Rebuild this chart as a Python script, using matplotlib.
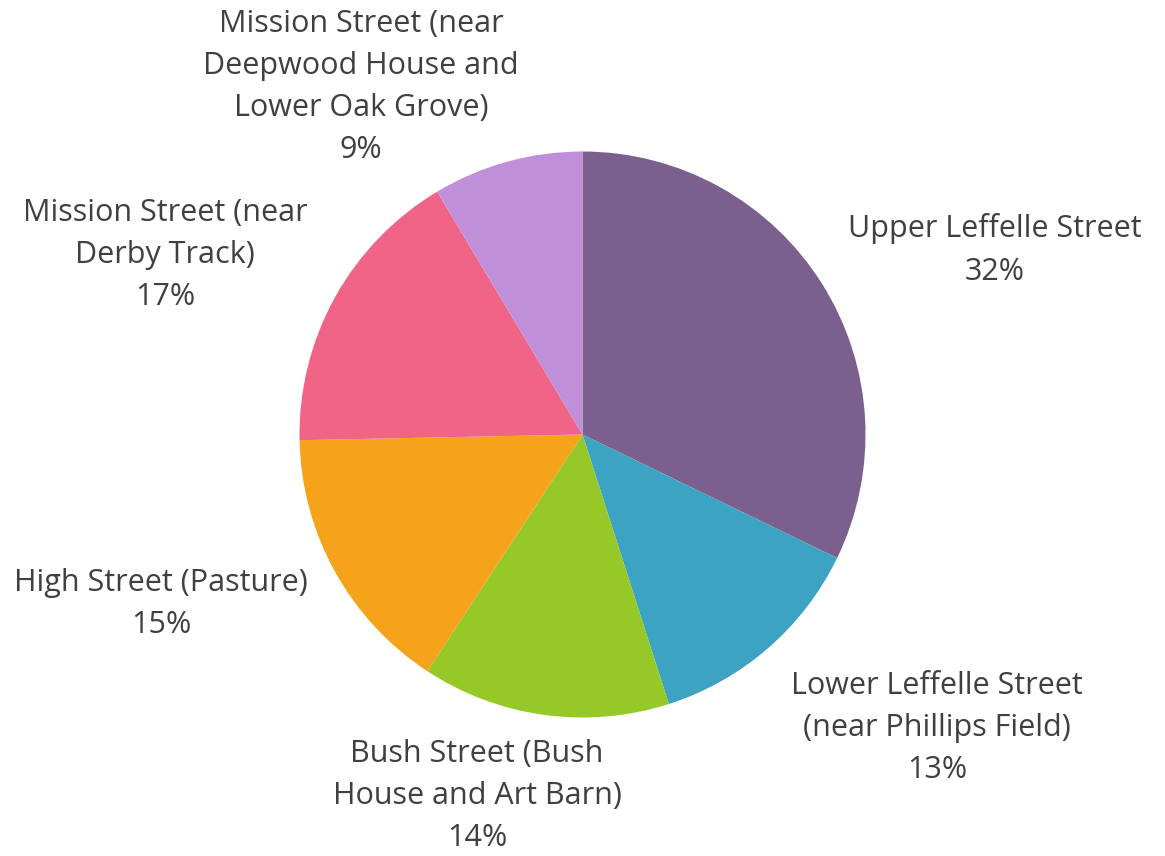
import matplotlib
matplotlib.use("Agg")
from matplotlib import pyplot as plt
import numpy as np

plt.rcParams["font.family"] = ["Open Sans", "DejaVu Sans"]

# data
categories = [
    "Upper Leffelle Street",
    "Lower Leffelle Street\n(near Phillips Field)",
    "Bush Street (Bush\nHouse and Art Barn)",
    "High Street (Pasture)",
    "Mission Street (near\nDerby Track)",
    "Mission Street (near\nDeepwood House and\nLower Oak Grove)",
]
counts = [75, 30, 33, 36, 39, 20]

colors = ["#7B5F8E", "#3DA3C2", "#96C828", "#F5A31A", "#F06487", "#BF8FDA"]
# label centres, in pie radii from the centre
label_pos = [(1.458, 0.652), (1.253, -1.037), (-0.373, -1.277),
             (-1.489, -0.599), (-1.475, 0.634), (-0.783, 1.228)]

W, H = 1165, 856
cx, cy, R = 582.5, 434.5, 283

fig = plt.figure(figsize=(W / 100, H / 100), dpi=100)
ax = fig.add_axes([0, 0, 1, 1])
ax.pie(counts, colors=colors, startangle=90, counterclock=False,
       radius=1.0, wedgeprops=dict(linewidth=0))
ax.set_xlim(-cx / R, (W - cx) / R)
ax.set_ylim(-(H - cy) / R, cy / R)
ax.set_aspect("auto")
ax.axis("off")

pct = 100 * np.array(counts) / sum(counts)
for name, p, (lx, ly) in zip(categories, pct, label_pos):
    ax.text(lx, ly, f"{name}\n{p:.0f}%", ha="center", va="center",
            fontsize=22, color="#404040", linespacing=1.53)

fig.savefig("out.png", dpi=100)
